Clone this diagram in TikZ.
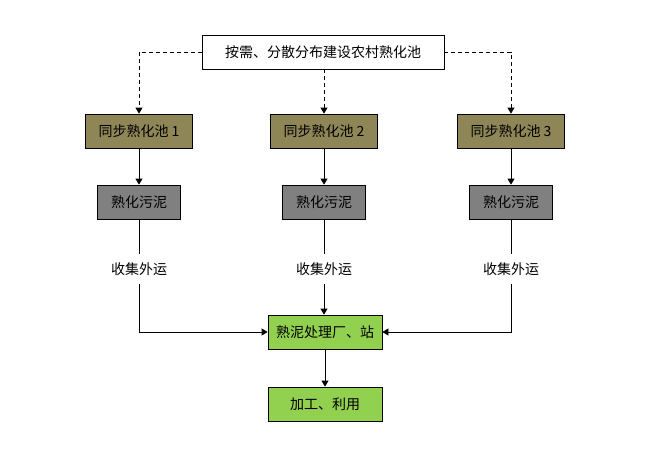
\documentclass[tikz,border=0pt]{standalone}
\usepackage{fontspec}
\newfontfamily\cjk{Noto Sans CJK SC}
\usetikzlibrary{arrows.meta}
\usetikzlibrary{positioning}

\definecolor{pondcol}{HTML}{8F8657}
\definecolor{sludgecol}{HTML}{808080}
\definecolor{plantcol}{HTML}{92D050}

\begin{document}
\begin{tikzpicture} [x=1pt,y=-1pt,>={Triangle[width=7pt,length=6pt]},line width=0.8pt,
    font=\cjk\fontsize{14}{16}\selectfont,
    box/.style={draw,minimum height=34pt,inner sep=0pt},
    pond/.style={box,fill=pondcol,minimum width=107pt},
    sludge/.style={box,fill=sludgecol,minimum width=83pt},
    plant/.style={box,fill=plantcol,minimum width=114pt},
    carry/.style={fill=white,inner xsep=2pt,inner ysep=8pt}]

  \useasboundingbox (0,0) rectangle (661,460);

  \node[box,minimum width=242pt] (plan) at (323,52) {按需、分散分布建设农村熟化池};
  \node[pond] (p2) at (324,131) {同步熟化池 2};
  \node[pond] (p1) [left of=p2, node distance=185pt] {同步熟化池 1};
  \node[pond] (p3) [right of=p2, node distance=187pt] {同步熟化池 3};

  \node[sludge] (s1) [below of=p1, node distance=71pt] {熟化污泥};
  \node[sludge] (s2) [below of=p2, node distance=71pt] {熟化污泥};
  \node[sludge] (s3) [below of=p3, node distance=71pt] {熟化污泥};

  \node[carry] (c1) [below of=s1, node distance=67pt] {收集外运};
  \node[carry] (c2) [below of=s2, node distance=67pt] {收集外运};
  \node[carry] (c3) [below of=s3, node distance=67pt] {收集外运};

  \node[plant] (plant) at (325,332) {熟泥处理厂、站};
  \node[plant] (use) [below of=plant, node distance=72pt] {加工、利用};

  % dashed lines from the plan
  \draw[->,dash pattern=on 4pt off 3pt] (plan) -| (p1);
  \draw[->,dash pattern=on 4pt off 3pt] (plan) -| (p3);
  \draw[->,dash pattern=on 4pt off 3pt] (plan.south -| p2) -- (p2);

  \draw[->] (p1) -- (s1);
  \draw[->] (p2) -- (s2);
  \draw[->] (p3) -- (s3);

  \draw (s1) -- (c1);
  \draw (s2) -- (c2);
  \draw (s3) -- (c3);

  \draw[->] (c1) |- (plant);
  \draw[->] (c2) -- (plant.north -| c2);
  \draw[->] (c3) |- (plant);
  \draw[->] (plant.south -| use) -- (use);

\end{tikzpicture}
\end{document}
